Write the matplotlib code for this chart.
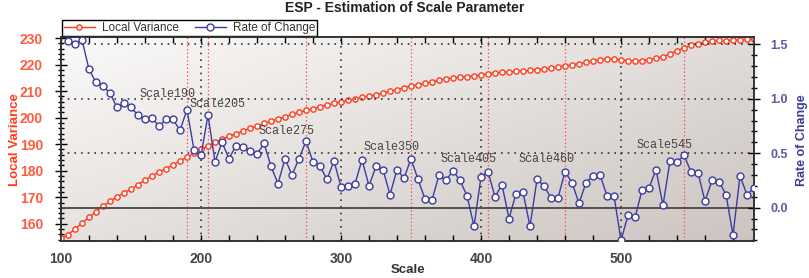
import numpy as np
import matplotlib
matplotlib.use("Agg")
import matplotlib.pyplot as plt
from matplotlib.ticker import MultipleLocator, FixedLocator

plt.rcParams["font.family"] = ["Liberation Sans", "DejaVu Sans"]

# scale values (step 5)
scale_lv = list(range(100, 600, 5))
local_variance = [
    154.6, 155.9, 158.0, 160.3, 162.4, 164.6, 166.6, 168.4, 170.2, 171.6,
    173.1, 174.7, 176.5, 178.1, 179.5, 180.8, 182.2, 183.7, 185.1, 186.7,
    188.0, 189.4, 190.7, 191.9, 192.9, 193.9, 195.0, 196.0, 196.9, 197.8,
    198.7, 199.5, 200.4, 201.2, 202.0, 202.7, 203.4, 204.1, 204.8, 205.4,
    206.0, 206.5, 207.0, 207.6, 208.1, 208.7, 209.3, 209.9, 210.6, 211.3,
    211.9, 212.4, 212.9, 213.5, 214.1, 214.6, 215.0, 215.3, 215.5, 215.8,
    216.0, 216.6, 216.9, 217.1, 217.3, 217.4, 217.6, 217.8, 218.1, 218.4,
    218.7, 219.1, 219.5, 219.9, 220.4, 220.9, 221.4, 221.8, 222.2, 222.1,
    221.8, 221.5, 221.3, 221.5, 221.8, 222.3, 223.0, 224.0, 225.2, 226.4,
    227.2, 227.9, 228.4, 228.8, 229.1, 229.0, 229.3, 229.2, 229.5, 229.8,
]

scale_roc = list(range(105, 600, 5))
rate_of_change = [
    1.53, 1.50, 1.54, 1.27, 1.15, 1.12, 1.05, 0.92, 0.96, 0.92,
    0.85, 0.81, 0.82, 0.75, 0.81, 0.81, 0.71, 0.90, 0.53, 0.48,
    0.85, 0.42, 0.60, 0.45, 0.57, 0.56, 0.52, 0.49, 0.59, 0.38,
    0.22, 0.45, 0.30, 0.45, 0.61, 0.42, 0.38, 0.26, 0.43, 0.19,
    0.20, 0.22, 0.44, 0.20, 0.38, 0.35, 0.12, 0.35, 0.27, 0.45,
    0.26, 0.08, 0.07, 0.30, 0.25, 0.34, 0.25, 0.11, -0.17, 0.28,
    0.33, 0.10, 0.21, -0.10, 0.13, 0.14, -0.17, 0.26, 0.20, 0.09,
    0.09, 0.33, 0.23, 0.04, 0.23, 0.29, 0.30, 0.11, 0.11, -0.30,
    -0.07, -0.09, 0.16, 0.18, 0.35, 0.02, 0.43, 0.42, 0.48, 0.33,
    0.32, 0.06, 0.25, 0.24, 0.12, -0.25, 0.29, 0.12, 0.18,
]

marked_scales = [190, 205, 275, 350, 405, 460, 545]
label_x = [156, 192, 241, 316, 371, 427, 511]
label_y = [1.04, 0.95, 0.70, 0.556, 0.445, 0.445, 0.577]

RED = "#ff3c1e"
BLUE = "#3c3ca0"

fig = plt.figure(figsize=(8.09, 2.78), dpi=100)
ax = fig.add_axes([61 / 809, 1 - 241 / 278, (754 - 61) / 809, (241 - 37) / 278])
ax2 = ax.twinx()

# gradient background
xx, yy = np.meshgrid(np.linspace(0, 1, 200), np.linspace(0, 1, 100))
t = 0.55 * xx + 0.45 * yy
c0 = np.array([0.985, 0.98, 0.975])
c1 = np.array([0.80, 0.77, 0.755])
img = c0 + t[..., None] * (c1 - c0)
ax.imshow(img, extent=[0, 1, 0, 1], transform=ax.transAxes, aspect="auto",
          origin="upper", zorder=0)

ax.set_xlim(100, 595)
ax.set_ylim(153.5, 230.4)
ax2.set_ylim(-0.306, 1.567)

# grid lines
for xv in [200, 300, 400, 500]:
    ax.axvline(xv, color="#333333", ls=(0, (1, 3)), lw=1.2, zorder=1)
for xv in marked_scales:
    ax.axvline(xv, color="#ff4040", ls=(0, (1, 2)), lw=0.9, zorder=1)
for yv in [0.5, 1.0, 1.5]:
    ax2.axhline(yv, color="#333333", ls=(0, (1, 3)), lw=1.2, zorder=1)
ax2.axhline(0.0, color="#555050", lw=1.4, zorder=1)

l1, = ax.plot(scale_lv, local_variance, color=RED, lw=1, marker="o", ms=3.8,
              mfc="white", mec=RED, mew=1, zorder=3, label="Local Variance")
l2, = ax2.plot(scale_roc, rate_of_change, color=BLUE, lw=1, marker="o", ms=5,
               mfc="white", mec=BLUE, mew=1, zorder=3, label="Rate of Change")

for s, lx, ly in zip(marked_scales, label_x, label_y):
    ax2.text(lx, ly, "Scale%d" % s, family="Liberation Mono", fontsize=8.5,
             color="#444444", ha="left", va="center", zorder=4)

# ticks
ax.xaxis.set_major_locator(FixedLocator([100, 200, 300, 400, 500]))
ax.xaxis.set_minor_locator(MultipleLocator(20))
ax.tick_params(axis="x", which="both", direction="in", top=True, length=4,
               width=1, pad=8, labelsize=10, labelcolor="#444444")
for lab in ax.get_xticklabels():
    lab.set_fontweight("bold")

ax.yaxis.set_major_locator(MultipleLocator(10))
ax.yaxis.set_minor_locator(MultipleLocator(2))
ax.tick_params(axis="y", which="major", direction="inout", length=8, width=1,
               labelsize=10, labelcolor="#ff5a3c", pad=9)
ax.tick_params(axis="y", which="minor", direction="inout", length=5, width=1)
for lab in ax.get_yticklabels():
    lab.set_fontweight("bold")

ax2.yaxis.set_major_locator(FixedLocator([0.0, 0.5, 1.0, 1.5]))
ax2.yaxis.set_minor_locator(MultipleLocator(0.1))
ax2.set_yticklabels(["0.0", "0.5", "1.0", "1.5"])
ax2.tick_params(axis="y", which="major", direction="inout", length=8, width=1,
                labelsize=9, labelcolor="#5a5aa8", pad=8)
ax2.tick_params(axis="y", which="minor", direction="inout", length=5, width=1)
for lab in ax2.get_yticklabels():
    lab.set_fontweight("bold")

for a in (ax, ax2):
    for sp in a.spines.values():
        sp.set_color("#333333")
        sp.set_linewidth(1.2)

narrow = ["Liberation Sans Narrow", "Liberation Sans", "DejaVu Sans"]
ax.set_ylabel("Local Variance", color="#ff3c1e", fontsize=9.5,
              fontweight="bold", family=narrow, va="center")
ax.yaxis.set_label_coords(-0.066, 0.495)
ax2.set_ylabel("Rate of Change", color="#3c3c96", fontsize=9,
               fontweight="bold", family=narrow, va="center", rotation=90)
ax2.yaxis.set_label_coords(1.069, 0.495)
ax.set_xlabel("Scale", fontsize=9.5, fontweight="bold", color="#333333",
              va="center")
ax.xaxis.set_label_coords(0.5, -0.142)

fig.text(0.5, 0.972, "ESP - Estimation of Scale Parameter", ha="center",
         va="center", fontsize=10, fontweight="bold", color="#222222")

leg = ax.legend(handles=[l1, l2], loc="lower left", bbox_to_anchor=(0, 1.0),
                ncol=2, frameon=True, fancybox=False,
                edgecolor="black", framealpha=1, borderpad=0.15,
                borderaxespad=0.1, handlelength=2.6, handletextpad=0.6,
                columnspacing=1.4, prop={"size": 8.5})
leg.get_frame().set_linewidth(1.0)
for tx in leg.get_texts():
    tx.set_color("#333333")

fig.savefig("out.png", dpi=100)
